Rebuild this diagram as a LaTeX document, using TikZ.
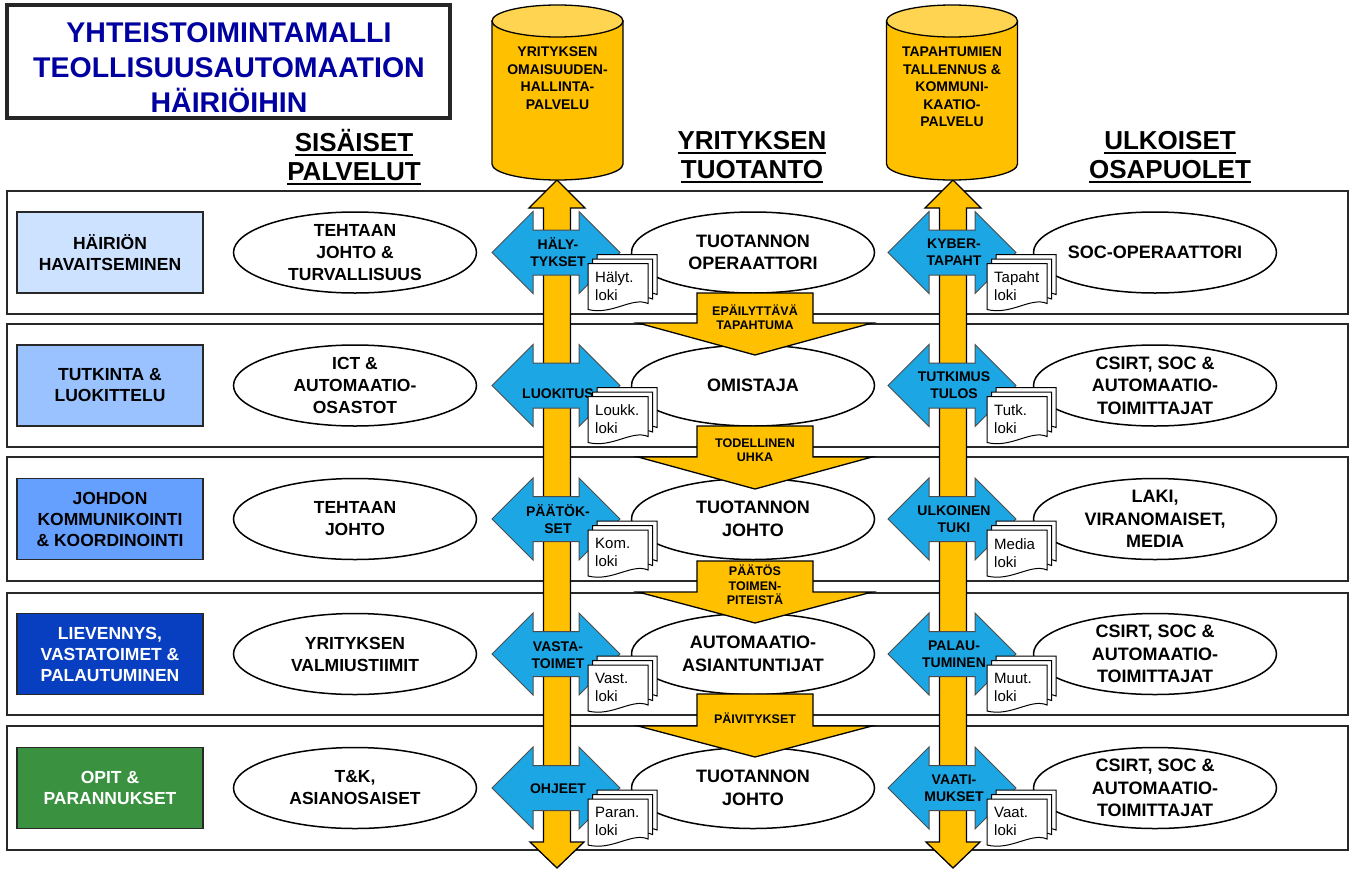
\documentclass[tikz,border=0pt]{standalone}
\usepackage{fontspec}
\setmainfont{Liberation Sans}
\usetikzlibrary{shapes.geometric}

\definecolor{gold}{RGB}{255,192,0}
\definecolor{goldtop}{RGB}{255,212,80}
\definecolor{sky}{RGB}{28,166,228}
\definecolor{navy}{RGB}{0,0,160}
\definecolor{stageA}{RGB}{204,226,255}
\definecolor{stageB}{RGB}{153,194,255}
\definecolor{stageC}{RGB}{102,160,255}
\definecolor{stageD}{RGB}{8,62,192}
\definecolor{stageE}{RGB}{58,145,64}
\definecolor{frame}{RGB}{40,40,40}

% heading text with a heavy underline
\newcommand\heavyul[1]{\setbox0\hbox{#1}\rlap{\rule[-4.5pt]{\wd0}{2.3pt}}\box0}

\tikzset{
  band/.style={draw=frame, line width=2pt},
  stagebox/.style={draw=frame, line width=1.5pt, minimum width=186pt, minimum height=81pt,
    inner sep=0pt, align=center, font=\fontsize{17.5}{21}\selectfont\bfseries},
  actor/.style={ellipse, draw=black, line width=1.5pt, fill=white,
    minimum width=243pt, minimum height=81pt, inner sep=0pt},
  actortxt/.style={align=center, inner sep=0pt, font=\fontsize{17.5}{22}\selectfont\bfseries},
  bigtxt/.style={align=center, inner sep=0pt, font=\fontsize{18}{22.5}\selectfont\bfseries},
  headtxt/.style={align=center, inner sep=0pt, font=\fontsize{26}{29}\selectfont\bfseries},
  goldshape/.style={draw=black, line width=1.3pt, fill=gold, line join=miter},
  goldtopshape/.style={draw=black, line width=1.3pt, fill=goldtop},
  skyshape/.style={draw=black!70, line width=1pt, fill=sky, line join=miter},
  xtxt/.style={align=center, inner sep=0pt, font=\fontsize{14}{17}\selectfont\bfseries},
  flowtxt/.style={align=center, inner sep=0pt, font=\fontsize{12.5}{14.5}\selectfont\bfseries},
  storetxt/.style={align=center, inner sep=0pt, font=\fontsize{14}{17.5}\selectfont\bfseries},
  page/.style={draw=black, line width=1pt, fill=white},
  doctxt/.style={align=left, inner sep=0pt, font=\fontsize{15}{18}\selectfont},
}

% vertical double-headed data flow (#1 = centre x)
\newcommand\spine[1]{%
  \draw[goldshape] (#1,180) -- ({#1+28},208) -- ({#1+13.5},208) -- ({#1+13.5},842)
    -- ({#1+27},842) -- (#1,868) -- ({#1-27},842) -- ({#1-13.5},842) -- ({#1-13.5},208)
    -- ({#1-28},208) -- cycle;}

% database cylinder (#1 name, #2 centre x, #3 text)
\newcommand\store[3]{%
  \draw[goldshape] ({#2-65.5},21) -- ({#2-65.5},164)
    arc[start angle=180, end angle=360, x radius=65.5pt, y radius=16pt]
    -- ({#2+65.5},21) -- cycle;
  \draw[goldtopshape] (#2,21) ellipse[x radius=65.5pt, y radius=16pt];
  \node[storetxt, anchor=north] (#1) at (#2,47) {#3};}

% horizontal two-way exchange arrow (#1 name, #2 cx, #3 cy, #4 label shift, #5 text)
\newcommand\exchange[5]{%
  \draw[skyshape] ({#2-64},#3) -- ({#2-23},{#3-41}) -- ({#2-23},{#3-22.5}) -- ({#2+23},{#3-22.5})
    -- ({#2+23},{#3-41}) -- ({#2+64},#3) -- ({#2+23},{#3+41}) -- ({#2+23},{#3+22.5})
    -- ({#2-23},{#3+22.5}) -- ({#2-23},{#3+41}) -- cycle;
  \node[xtxt] (#1) at ({#2+2},{#3+#4}) {#5};}

% escalation arrow between stages (#1 name, #2 shaft top, #3 head base, #4 tip, #5 text)
\newcommand\escalate[5]{%
  \draw[goldshape] (697,#2) -- (813,#2) -- (813,#3) -- (872,#3) -- (755,#4)
    -- (638,#3) -- (697,#3) -- cycle;
  \node[flowtxt] (#1) at (755,{#2+24}) {#5};}

% stack of log documents (#1 name, #2 left x, #3 top y, #4 text)
\newcommand\logstack[4]{%
  \begin{scope}[shift={(#2,#3)}]
    \foreach \d in {9,4.5,0}{%
      \draw[page] (\d,-\d) -- ({60+\d},-\d) -- ({60+\d},{40-\d})
        .. controls ({44+\d},{33-\d}) and ({24+\d},{52-\d}) .. (\d,{46-\d}) -- cycle;}
    \node[doctxt, anchor=north west] (#1) at (7,8) {#4};
  \end{scope}}

\begin{document}
\begin{tikzpicture}[x=1pt, y=-1pt]
  \useasboundingbox (0,0) rectangle (1351,870);

  % title
  \draw[line width=3.5pt, draw=black!85] (7,5) rectangle (450,118);
  \node[align=center, inner sep=0pt, text=navy, font=\fontsize{28.5}{35}\selectfont\bfseries]
    (title) at (229,68) {YHTEISTOIMINTAMALLI\\TEOLLISUUSAUTOMAATION\\HÄIRIÖIHIN};

  % column headings
  \node[headtxt] (hInt) at (354,157) {\heavyul{SISÄISET}\\\heavyul{PALVELUT}};
  \node[headtxt] (hProd) at (752,157) {\heavyul{YRITYKSEN}\\\heavyul{TUOTANTO}};
  \node[headtxt] (hExt) at (1170,157) {\heavyul{ULKOISET}\\\heavyul{OSAPUOLET}};

  % stage bands
  \draw[band] (7,191) rectangle (1348,314);
  \draw[band] (7,324) rectangle (1348,447);
  \draw[band] (7,457) rectangle (1348,581);
  \draw[band] (7,593) rectangle (1348,715);
  \draw[band] (7,726) rectangle (1348,850);

  % stage names
  \node[stagebox, fill=stageA] (s1) at (110,252.5) {HÄIRIÖN\\HAVAITSEMINEN};
  \node[stagebox, fill=stageB] (s2) at (110,385.5) {TUTKINTA \&\\LUOKITTELU};
  \node[stagebox, fill=stageC] (s3) at (110,519) {JOHDON\\KOMMUNIKOINTI\\\& KOORDINOINTI};
  \node[stagebox, fill=stageD, text=white] (s4) at (110,654) {LIEVENNYS,\\VASTATOIMET \&\\PALAUTUMINEN};
  \node[stagebox, fill=stageE, text=white] (s5) at (110,788) {OPIT \&\\PARANNUKSET};

  % internal services
  \node[actor] (i1) at (355,252.5) {};
  \node[actortxt] (i1t) at (i1) {TEHTAAN\\JOHTO \&\\TURVALLISUUS};
  \node[actor] (i2) at (355,385.5) {};
  \node[actortxt] (i2t) at (i2) {ICT \&\\AUTOMAATIO-\\OSASTOT};
  \node[actor] (i3) at (355,519) {};
  \node[actortxt] (i3t) at (i3) {TEHTAAN\\JOHTO};
  \node[actor] (i4) at (355,654) {};
  \node[actortxt] (i4t) at (i4) {YRITYKSEN\\VALMIUSTIIMIT};
  \node[actor] (i5) at (355,788) {};
  \node[actortxt] (i5t) at (i5) {T\&K,\\ASIANOSAISET};

  % data spines and the services they feed
  \spine{557}
  \spine{953}
  \store{dbAsset}{557.5}{YRITYKSEN\\OMAISUUDEN-\\HALLINTA-\\PALVELU}
  \store{dbEvent}{952}{TAPAHTUMIEN\\TALLENNUS \&\\KOMMUNI-\\KAATIO-\\PALVELU}

  % exchanges with the asset service
  \exchange{x1}{556}{252.5}{0}{HÄLY-\\TYKSET}
  \exchange{x2}{556}{385.5}{8}{LUOKITUS}
  \exchange{x3}{556}{519}{0}{PÄÄTÖK-\\SET}
  \exchange{x4}{556}{654}{1}{VASTA-\\TOIMET}
  \exchange{x5}{556}{788}{1}{OHJEET}

  % exchanges with the event service
  \exchange{y1}{952}{252.5}{0}{KYBER-\\TAPAHT}
  \exchange{y2}{952}{385.5}{0}{TUTKIMUS\\TULOS}
  \exchange{y3}{952}{519}{0}{ULKOINEN\\TUKI}
  \exchange{y4}{952}{654}{0}{PALAU-\\TUMINEN}
  \exchange{y5}{952}{788}{0}{VAATI-\\MUKSET}

  % production
  \node[actor] (p1) at (753,252.5) {};
  \node[bigtxt] (p1t) at (p1) {TUOTANNON\\OPERAATTORI};
  \node[actor] (p2) at (753,385.5) {};
  \node[bigtxt] (p2t) at (p2) {OMISTAJA};
  \node[actor] (p3) at (753,519) {};
  \node[bigtxt] (p3t) at (p3) {TUOTANNON\\JOHTO};
  \node[actor] (p4) at (753,654) {};
  \node[bigtxt] (p4t) at (p4) {AUTOMAATIO-\\ASIANTUNTIJAT};
  \node[actor] (p5) at (753,788) {};
  \node[bigtxt] (p5t) at (p5) {TUOTANNON\\JOHTO};

  % external parties
  \node[actor] (e1) at (1155,252.5) {};
  \node[bigtxt] (e1t) at (e1) {SOC-OPERAATTORI};
  \node[actor] (e2) at (1155,385.5) {};
  \node[bigtxt] (e2t) at (e2) {CSIRT, SOC \&\\AUTOMAATIO-\\TOIMITTAJAT};
  \node[actor] (e3) at (1155,519) {};
  \node[bigtxt] (e3t) at (e3) {LAKI,\\VIRANOMAISET,\\MEDIA};
  \node[actor] (e4) at (1155,654) {};
  \node[bigtxt] (e4t) at (e4) {CSIRT, SOC \&\\AUTOMAATIO-\\TOIMITTAJAT};
  \node[actor] (e5) at (1155,788) {};
  \node[bigtxt] (e5t) at (e5) {CSIRT, SOC \&\\AUTOMAATIO-\\TOIMITTAJAT};

  % escalation between stages
  \escalate{f1}{293}{323}{355}{EPÄILYTTÄVÄ\\TAPAHTUMA}
  \escalate{f2}{426}{457}{489}{TODELLINEN\\UHKA}
  \escalate{f3}{561}{592}{623}{PÄÄTÖS\\TOIMEN-\\PITEISTÄ}
  \escalate{f4}{694}{726}{757}{PÄIVITYKSET}

  % logs
  \logstack{l1}{588}{263.5}{Hälyt.\\loki}
  \logstack{l2}{588}{396.5}{Loukk.\\loki}
  \logstack{l3}{588}{530}{Kom.\\loki}
  \logstack{l4}{588}{665}{Vast.\\loki}
  \logstack{l5}{588}{799}{Paran.\\loki}
  \logstack{m1}{987}{263.5}{Tapaht\\loki}
  \logstack{m2}{987}{396.5}{Tutk.\\loki}
  \logstack{m3}{987}{530}{Media\\loki}
  \logstack{m4}{987}{665}{Muut.\\loki}
  \logstack{m5}{987}{799}{Vaat.\\loki}
\end{tikzpicture}
\end{document}
